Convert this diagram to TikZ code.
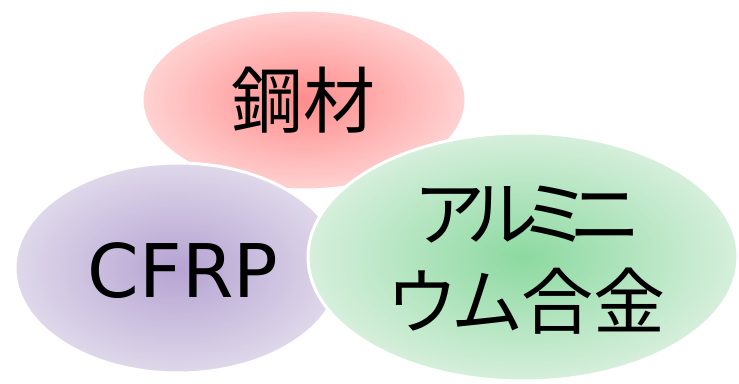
\documentclass[tikz,border=0pt]{standalone}
\usepackage{fontspec}
\setmainfont{Noto Sans CJK JP}
\newfontfamily\propjp[RawFeature=+palt]{Noto Sans CJK JP}
\newfontfamily\latinsans{DejaVu Sans}
\usetikzlibrary{shapes.geometric}
\definecolor{redin}{HTML}{FF8C8C}
\definecolor{redout}{HTML}{FFD2D2}
\definecolor{purin}{HTML}{B5A3D2}
\definecolor{purout}{HTML}{DFD8EA}
\definecolor{grnin}{HTML}{8CD9A0}
\definecolor{grnout}{HTML}{D6EFDC}
\newcommand{\tk}{\hspace{-13pt}}
\tikzset{
  blob/.style={ellipse, draw=white, line width=3pt, inner sep=0pt, shading=radial},
  lbl/.style={font=\fontsize{72}{88}\selectfont, text=black, align=center, inner sep=0pt}
}
\begin{document}
\begin{tikzpicture}[x=1pt,y=1pt]
\useasboundingbox (0,0) rectangle (739,383);
\node[blob, inner color=redin, outer color=redout, minimum width=324pt, minimum height=180pt] (steel) at (304,283) {};
\node[blob, inner color=purin, outer color=purout, minimum width=326pt, minimum height=210pt] (cfrp) at (178,115) {};
\node[blob, inner color=grnin, outer color=grnout, minimum width=430pt, minimum height=248pt] (alu) at (523,126) {};
\node[lbl] (steeltxt) at (303,283) {鋼材};
\node[lbl, font=\latinsans\fontsize{74}{88}\selectfont] (cfrptxt) at (183,112) {CFRP};
\node[lbl, font=\propjp\fontsize{72}{88}\selectfont] (alutxt) at (527,123) {ア\tk ル\tk ミ\tk ニ\\ウム合金};
\end{tikzpicture}
\end{document}
